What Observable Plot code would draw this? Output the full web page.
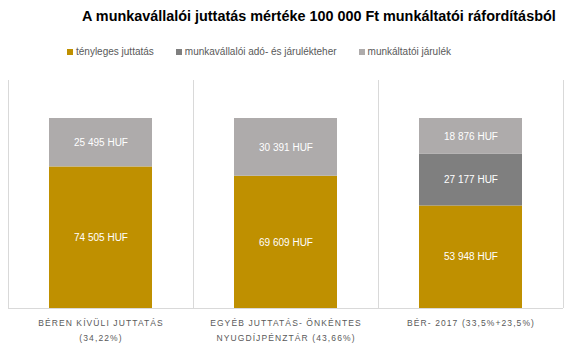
<!DOCTYPE html>
<html>
<head>
<meta charset="utf-8">
<script src="https://cdn.jsdelivr.net/npm/d3@7"></script>
<script src="https://cdn.jsdelivr.net/npm/@observablehq/plot@0.6"></script>
<style>
  html, body { margin: 0; padding: 0; background: #fff; }
  #wrap { position: relative; width: 574px; height: 348px; font-family: "Liberation Sans", Arial, sans-serif; overflow: hidden; }
  #title { position: absolute; left: 82px; top: 8px; font-weight: bold; font-size: 14.4px; color: #000; white-space: nowrap; }
  #legend { position: absolute; left: 67px; top: 46px; display: flex; align-items: center; font-size: 10px; color: #595959; white-space: nowrap; }
  #legend .item { display: flex; align-items: center; margin-right: 22px; }
  #legend .sw { width: 6px; height: 6px; margin-right: 3px; }
  #chart { position: absolute; left: 0; top: 70px; }
  #chart svg [aria-label="x-axis tick label"] text { letter-spacing: 1.1px; }
</style>
</head>
<body>
<div id="wrap">
  <div id="title"></div>
  <div id="legend"></div>
  <div id="chart"></div>
</div>
<script>
const titleText = "A munkavállalói juttatás mértéke 100 000 Ft munkáltatói ráfordításból";
const categories = [
  "BÉREN KÍVÜLI JUTTATÁS\n(34,22%)",
  "EGYÉB JUTTATÁS- ÖNKÉNTES\nNYUGDÍJPÉNZTÁR (43,66%)",
  "BÉR- 2017 (33,5%+23,5%)"
];
const series = ["tényleges juttatás", "munkavállalói adó- és járulékteher", "munkáltatói járulék"];
const tenyleges = [74505, 69609, 53948];
const munkavallaloi = [0, 0, 27177];
const munkaltatoi = [25495, 30391, 18876];
const colors = ["#BF9000", "#7F7F7F", "#AEABAB"];

const valuesBySeries = [tenyleges, munkavallaloi, munkaltatoi];
const rows = [];
categories.forEach((c, i) => {
  series.forEach((s, j) => {
    const v = valuesBySeries[j][i];
    if (v > 0) rows.push({cat: c, series: s, value: v});
  });
});
const fmt = v => String(v).replace(/\B(?=(\d{3})+(?!\d))/g, " ") + " HUF";

document.getElementById("title").textContent = titleText;
const legend = document.getElementById("legend");
series.forEach((s, j) => {
  const it = document.createElement("div");
  it.className = "item";
  const sw = document.createElement("span");
  sw.className = "sw";
  sw.style.background = colors[j];
  const t = document.createElement("span");
  t.textContent = s;
  it.appendChild(sw); it.appendChild(t);
  legend.appendChild(it);
});

const W = 574, H = 278, mL = 8, mR = 11, mT = 10, mB = 40;
const band = (W - mL - mR) / categories.length;
const inset = 41;

const plot = Plot.plot({
  width: W,
  height: H,
  marginLeft: mL,
  marginRight: mR,
  marginTop: mT,
  marginBottom: mB,
  style: {fontFamily: "Liberation Sans, Arial, sans-serif", background: "#fff"},
  x: {domain: categories, padding: 0, label: null},
  y: {domain: [0, 120000], axis: null},
  color: {domain: series, range: colors},
  marks: [
    Plot.ruleX(categories, {x: d => d, y1: 0, y2: 120000, dx: -band / 2, stroke: "#D9D9D9"}),
    Plot.ruleX([categories[categories.length - 1]], {x: d => d, y1: 0, y2: 120000, dx: band / 2, stroke: "#D9D9D9"}),
    Plot.barY(rows, Plot.stackY({x: "cat", y: "value", fill: "series", order: null, insetLeft: inset, insetRight: inset})),
    Plot.text(rows, Plot.stackY({x: "cat", y: "value", z: "series", order: null, text: d => fmt(d.value), fill: "#fff", fontSize: 10})),
    Plot.ruleY([0], {stroke: "#D9D9D9"}),
    Plot.axisX({tickSize: 0, tickPadding: 7, fontSize: 8.5, fill: "#595959", lineHeight: 1.75, lineAnchor: "top"})
  ]
});
document.getElementById("chart").appendChild(plot);
</script>
</body>
</html>
